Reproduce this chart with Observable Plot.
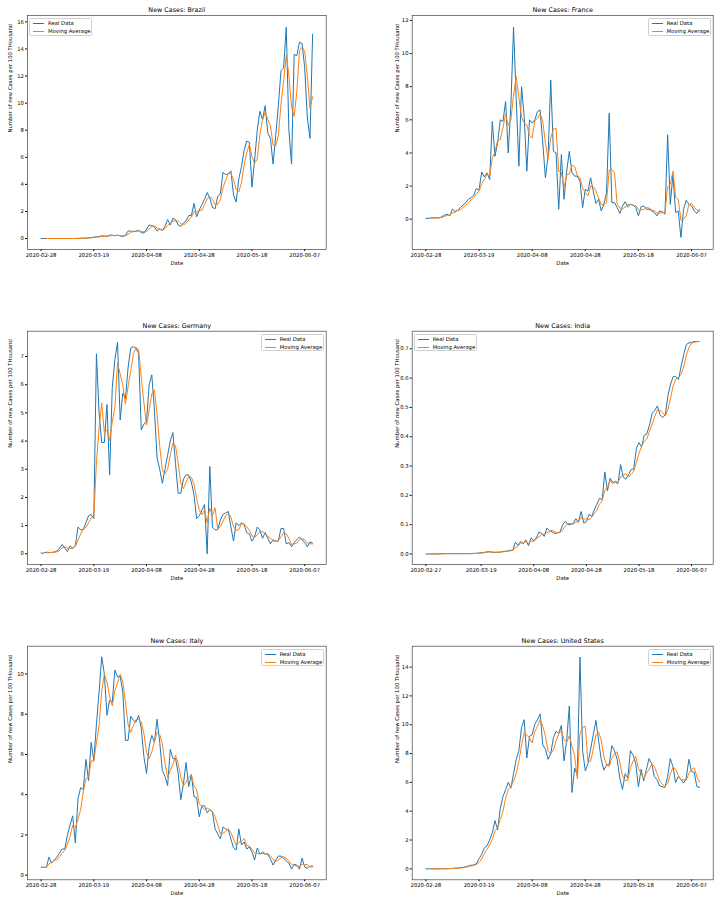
<!DOCTYPE html>
<html><head><meta charset="utf-8">
<script src="https://cdn.jsdelivr.net/npm/d3@7"></script>
<script src="https://cdn.jsdelivr.net/npm/@observablehq/plot@0.6"></script>
<style>
body{margin:0;background:#fff;width:721px;height:899px;overflow:hidden;position:relative;font-family:"DejaVu Sans",sans-serif}
.panel{position:absolute}
.legend{position:absolute;background:rgba(255,255,255,0.85);border:0.6px solid #d0d0d0;border-radius:1.5px;width:63px;height:17.4px;box-sizing:border-box;font-size:5.3px;color:#000;line-height:1}
.legend .row{position:absolute;left:3.3px;height:6px;display:flex;align-items:center;white-space:nowrap}
.legend .sw{width:11px;height:1.3px;margin-right:3.7px}
</style></head><body>
<script>
// ---------- data (new cases per 100 thousand, daily) ----------
const brazilStart = "2020-02-28";
const brazil = [0,0,0,0,0,0,0,0,0,0,0,0,0,
0.01,0.01,0.02,0.03,0.03,0.05,0.07,0.1,0.12,0.15,0.2,0.18,0.15,0.25,0.25,0.2,0.25,0.2,0.15,0.25,
0.55,0.55,0.5,0.55,0.6,0.45,0.4,0.7,1.0,0.95,0.85,0.55,0.7,0.6,0.9,1.4,1.0,1.5,1.4,1.0,0.9,1.15,
1.3,1.7,1.7,2.6,1.6,2.1,2.5,2.9,3.4,3.0,2.3,2.2,3.1,3.3,4.9,4.7,4.8,5.0,3.2,2.7,4.4,5.3,6.5,7.2,
7.1,3.8,5.8,8.0,9.4,8.8,9.8,7.8,7.4,5.5,7.6,9.8,12.4,12.6,15.6,8.0,5.5,13.6,13.5,14.5,14.4,12.6,8.9,7.4,15.1];

const franceStart = "2020-02-28";
const france = [0.05,0.05,0.08,0.08,0.08,0.08,0.15,0.25,0.3,0.2,0.6,0.45,0.55,0.7,0.85,1.0,1.2,1.3,1.45,1.85,
1.75,2.85,2.55,2.8,2.4,5.9,3.8,4.6,6.0,5.9,7.1,4.0,6.9,11.6,7.3,3.2,8.0,6.2,2.9,6.0,5.8,6.0,6.5,6.6,4.6,
2.5,3.8,8.4,4.1,4.0,0.6,3.9,1.2,2.9,4.1,2.8,2.6,2.6,2.3,0.7,1.8,1.7,2.5,1.7,0.95,1.2,0.5,0.9,1.6,6.4,
1.0,1.0,0.7,0.35,0.8,1.05,0.75,0.9,0.85,0.7,0.2,0.75,0.8,0.6,0.6,0.5,0.4,0.2,0.5,0.45,0.3,5.1,0.9,2.7,
0.4,0.5,-1.1,0.6,1.15,0.9,0.8,0.5,0.35,0.6];

const germanyStart = "2020-02-28";
const germany = [0.03,0.02,0.06,0.04,0.05,0.06,0.1,0.2,0.33,0.2,0.08,0.28,0.2,0.3,0.95,0.85,0.85,1.1,1.35,1.4,
1.25,7.1,5.0,3.95,3.95,5.3,2.8,5.9,6.9,7.5,4.75,5.7,5.5,6.6,7.3,7.35,7.3,7.1,4.4,4.6,4.7,6.0,6.35,5.1,3.4,
3.0,2.5,3.0,3.5,4.0,4.3,3.2,2.15,2.15,2.65,2.8,2.8,2.55,2.1,1.25,1.35,1.55,1.75,0.0,3.1,0.95,0.85,0.85,
1.2,1.4,1.45,1.5,0.95,0.45,1.1,1.0,1.1,1.05,0.75,0.7,0.45,0.6,0.95,0.85,0.55,0.75,0.55,0.35,0.5,0.45,
0.45,0.9,0.9,0.35,0.4,0.25,0.4,0.5,0.6,0.5,0.4,0.25,0.42,0.38];

const indiaStart = "2020-02-27";
const india = [0,0,0,0,0,0,0.001,0.001,0.001,0.001,
0.001,0.001,0.001,0.001,0.001,0.001,0.001,0.001,0.002,0.002,
0.003,0.004,0.005,0.007,0.008,0.006,0.005,0.006,0.006,0.008,
0.009,0.010,0.013,0.012,0.040,0.030,0.043,0.035,0.048,0.028,
0.055,0.045,0.055,0.075,0.070,0.060,0.088,0.080,0.075,0.070,
0.072,0.075,0.100,0.112,0.100,0.100,0.105,0.120,0.108,0.145,
0.105,0.110,0.135,0.128,0.150,0.170,0.190,0.185,0.280,0.215,
0.258,0.245,0.245,0.240,0.305,0.262,0.255,0.270,0.288,0.290,
0.360,0.380,0.365,0.405,0.410,0.440,0.480,0.490,0.505,0.475,
0.465,0.475,0.540,0.580,0.605,0.605,0.595,0.640,0.680,0.715,
0.720,0.722,0.725,0.725,0.725];

const italyStart = "2020-02-28";
const italy = [0.4,0.4,0.38,0.9,0.6,0.75,0.9,1.1,1.3,1.3,2.0,2.5,2.95,1.6,3.8,4.35,4.25,5.75,4.7,6.6,
5.7,7.5,9.1,10.85,10.0,7.95,8.7,8.6,10.2,9.85,9.9,9.1,6.7,6.7,7.9,7.7,7.6,7.95,7.3,5.9,5.05,6.4,6.95,6.6,
7.75,6.6,5.2,4.9,4.45,6.25,5.8,5.8,5.05,3.75,4.55,5.6,4.4,5.0,3.9,3.85,2.9,3.45,3.45,3.1,3.25,3.15,2.3,
2.05,1.8,2.4,2.3,2.25,1.8,1.35,1.25,2.3,1.5,1.65,1.3,1.4,1.15,0.75,1.35,1.05,1.1,1.05,1.05,0.8,0.5,
0.75,0.95,0.95,0.85,0.7,0.6,0.3,0.55,0.5,0.3,0.85,0.4,0.35,0.45,0.45];

const usStart = "2020-02-28";
const unitedStates = [0,0,0,0,0.005,0.005,0.01,0.01,0.015,0.02,0.03,0.05,0.05,0.08,0.1,0.15,0.2,0.25,0.27,0.35,
0.7,1.0,1.45,1.6,2.0,2.5,3.35,2.7,4.2,5.0,5.5,6.0,5.6,6.6,7.6,8.2,9.8,10.35,7.7,9.2,9.3,10.05,10.35,10.75,
8.6,8.3,7.6,8.0,9.1,9.55,9.4,9.95,7.5,8.9,11.3,5.3,7.0,6.5,14.7,8.2,6.8,7.3,8.3,9.3,10.3,8.9,7.6,6.85,
7.2,7.25,8.55,8.2,7.6,6.3,5.5,6.6,6.3,8.2,7.9,7.3,5.7,6.9,6.1,6.9,7.65,7.3,6.4,6.2,5.75,5.7,5.65,6.4,
7.65,7.1,6.0,6.4,6.2,5.95,6.3,7.6,6.75,6.7,5.7,5.65];

// ---------- ticks ----------
const xTickLabels = ["2020-02-28","2020-03-19","2020-04-08","2020-04-28","2020-05-18","2020-06-07"];
const xTickLabelsIndia = ["2020-02-27","2020-03-19","2020-04-08","2020-04-28","2020-05-18","2020-06-07"];
const yTicksBrazil = [0,2,4,6,8,10,12,14,16];
const yTicksFrance = [0,2,4,6,8,10,12];
const yTicksGermany = [0,1,2,3,4,5,6,7];
const yTicksIndia = [0,0.1,0.2,0.3,0.4,0.5,0.6,0.7];
const yTicksItaly = [0,2,4,6,8,10];
const yTicksUS = [0,2,4,6,8,10,12,14];

const seriesLabels = ["Real Data", "Moving Average"];
const yLabel = "Number of new Cases per 100 THousand";

// ---------- layout ----------
const DAY = 86400000;
const colLeft = [0, 360], colWidth = [360, 361], colML = [27, 51.7], colMR = [34.3, 8.3], colYLabDx = [-17, -15];
const rowTop = [0, 310, 625], rowMT = [15, 20.7, 20.7], rowH = [269, 274, 274.3];
const MB = 20;

const panels = [
  {name: "Brazil", values: brazil, start: brazilStart, yDomain: [-0.81, 16.47], yTicks: yTicksBrazil, xTicks: xTickLabels, fmt: d3.format("d"), col: 0, row: 0, legend: "left"},
  {name: "France", values: france, start: franceStart, yDomain: [-1.83, 12.3], yTicks: yTicksFrance, xTicks: xTickLabels, fmt: d3.format("d"), col: 1, row: 0, legend: "right"},
  {name: "Germany", values: germany, start: germanyStart, yDomain: [-0.38, 7.9], yTicks: yTicksGermany, xTicks: xTickLabels, fmt: d3.format("d"), col: 0, row: 1, legend: "right"},
  {name: "India", values: india, start: indiaStart, yDomain: [-0.036, 0.76], yTicks: yTicksIndia, xTicks: xTickLabelsIndia, fmt: d3.format(".1f"), col: 1, row: 1, legend: "left"},
  {name: "Italy", values: italy, start: italyStart, yDomain: [-0.23, 11.38], yTicks: yTicksItaly, xTicks: xTickLabels, fmt: d3.format("d"), col: 0, row: 2, legend: "right"},
  {name: "United States", values: unitedStates, start: usStart, yDomain: [-0.76, 15.45], yTicks: yTicksUS, xTicks: xTickLabels, fmt: d3.format("d"), col: 1, row: 2, legend: "right"}
];

const parse = d3.utcParse("%Y-%m-%d");

for (const p of panels) {
  const t0 = parse(p.start);
  const rows = p.values.map((v, i) => ({date: new Date(+t0 + i * DAY), value: v}));
  const n = rows.length - 1;
  const pad = 0.05 * n * DAY;
  const xDomain = [new Date(+t0 - pad), new Date(+t0 + n * DAY + pad)];
  const ml = colML[p.col], mr = colMR[p.col], mt = rowMT[p.row];
  const chart = Plot.plot({
    width: colWidth[p.col], height: rowH[p.row],
    marginLeft: ml, marginRight: mr, marginTop: mt, marginBottom: MB,
    style: {fontFamily: "DejaVu Sans", fontSize: "5.3px", background: "transparent", overflow: "visible"},
    x: {type: "utc", domain: xDomain},
    y: {domain: p.yDomain},
    marks: [
      Plot.axisX({ticks: p.xTicks.map(parse), tickFormat: d3.utcFormat("%Y-%m-%d"), tickSize: 2, tickPadding: 1.6, label: null, stroke: "#000"}),
      Plot.axisY({ticks: p.yTicks, tickFormat: p.fmt, tickSize: 2, tickPadding: 1.6, label: null, stroke: "#000"}),
      Plot.lineY(rows, {x: "date", y: "value", stroke: "#1f77b4", strokeWidth: 1}),
      Plot.lineY(rows, Plot.windowY({k: 3, anchor: "end", strict: true}, {x: "date", y: "value", stroke: "#ff7f0e", strokeWidth: 1})),
      Plot.frame({stroke: "#444", strokeWidth: 0.7}),
      Plot.text(["New Cases: " + p.name], {text: d => d, frameAnchor: "top", lineAnchor: "middle", dy: -5.5, fontSize: 6.4, fill: "#000"}),
      Plot.text([yLabel], {text: d => d, frameAnchor: "left", lineAnchor: "middle", rotate: -90, dx: colYLabDx[p.col], fontSize: 5.3, fill: "#000"}),
      Plot.text(["Date"], {text: d => d, frameAnchor: "bottom", lineAnchor: "middle", dy: 13.7, fontSize: 5.3, fill: "#000"})
    ]
  });
  const div = document.createElement("div");
  div.className = "panel";
  div.style.left = colLeft[p.col] + "px";
  div.style.top = rowTop[p.row] + "px";
  div.appendChild(chart);
  document.body.appendChild(div);

  // legend box (upper left / upper right of axes)
  const axL = colLeft[p.col] + ml, axR = colLeft[p.col] + colWidth[p.col] - mr, axT = rowTop[p.row] + mt;
  const lg = document.createElement("div");
  lg.className = "legend";
  lg.style.top = (axT + 3.3) + "px";
  lg.style.left = (p.legend === "left" ? axL + 2 : axR - 2 - 63) + "px";
  [["#1f77b4", seriesLabels[0], 1.4], ["#ff7f0e", seriesLabels[1], 9.4]].forEach(([c, t, y]) => {
    const r = document.createElement("div");
    r.className = "row";
    r.style.top = y + "px";
    r.innerHTML = `<span class="sw" style="background:${c}"></span><span>${t}</span>`;
    lg.appendChild(r);
  });
  document.body.appendChild(lg);
}
</script>
</body></html>
